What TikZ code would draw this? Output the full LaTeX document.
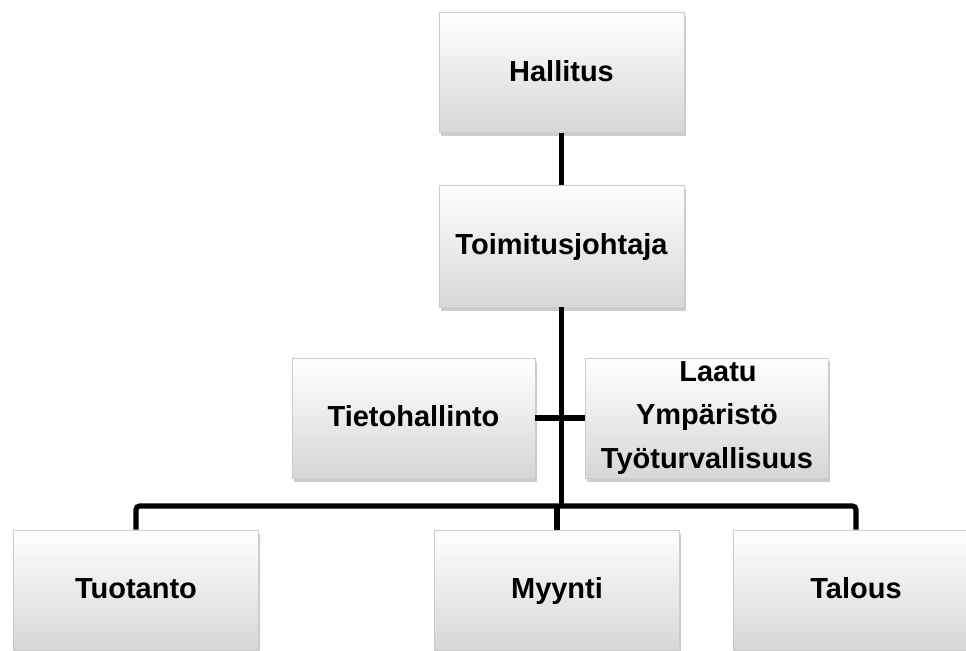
\documentclass[tikz,border=0pt]{standalone}
\usepackage{fontspec}
\setmainfont{Liberation Sans}
\usetikzlibrary{shadows}

\tikzset{
  orgbox/.style={draw=gray!40, line width=0.4pt, top color=white, bottom color=gray!32,
    drop shadow={shadow xshift=1pt, shadow yshift=-2pt, opacity=0.4},
    minimum width=4.9cm, minimum height=2.4cm, align=center, inner sep=0pt,
    text height=2.4ex, text depth=0.5ex,
    font=\fontsize{16.5}{25}\selectfont\bfseries},
  conn/.style={line width=2.9pt, black}
}

\begin{document}
\begin{tikzpicture}[x=0.02cm,y=-0.02cm]
  \useasboundingbox (0,0) rectangle (966,650);
  \clip (0,0) rectangle (966,650);

  \node[orgbox] (hallitus) at (561.5,72.5) {Hallitus};
  \node[orgbox, minimum height=2.44cm] (toimitus) at (561.5,246) {Toimitusjohtaja};
  \node[orgbox, minimum width=4.86cm] (tieto) at (413.5,418) {Tietohallinto};
  \node[orgbox, minimum width=4.86cm, text height=, text depth=] (laatu) at (707,418) {\hspace*{0.44cm}Laatu\\ Ympäristö\\ Työturvallisuus};
  \node[orgbox] (tuotanto) at (136,590) {Tuotanto};
  \node[orgbox] (myynti) at (557,590) {Myynti};
  \node[orgbox] (talous) at (856,590) {Talous};

  \coordinate (bus) at (561.5,506);
  \draw[conn] (hallitus.south) -- (toimitus.north);
  \draw[conn] (toimitus.south) -- (bus);
  \draw[conn] (tieto.east) -- (laatu.west);
  \draw[conn, rounded corners=2pt] (tuotanto.north) |- (bus) -| (talous.north);
  \draw[conn] (bus -| myynti.north) -- (myynti.north);
\end{tikzpicture}
\end{document}
